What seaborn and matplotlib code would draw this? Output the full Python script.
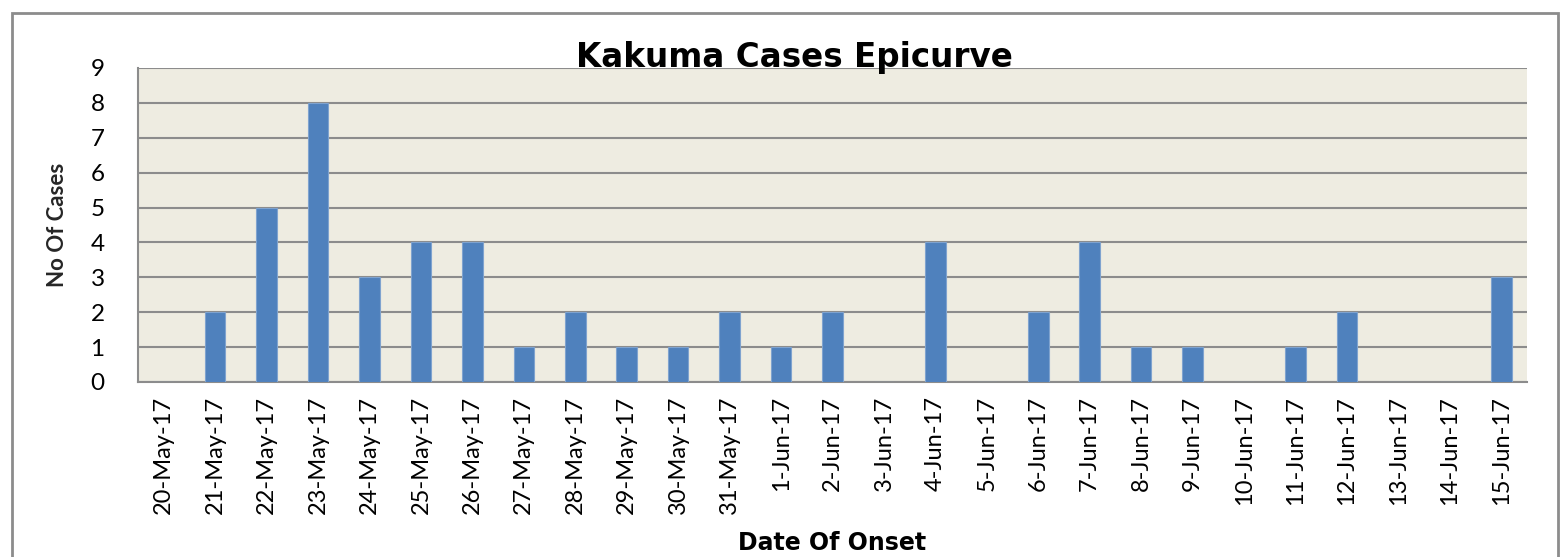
import matplotlib
matplotlib.use("Agg")
import matplotlib.pyplot as plt
import seaborn as sns
import pandas as pd
from matplotlib.patches import Rectangle

dates = ["20-May-17", "21-May-17", "22-May-17", "23-May-17", "24-May-17", "25-May-17",
         "26-May-17", "27-May-17", "28-May-17", "29-May-17", "30-May-17", "31-May-17",
         "1-Jun-17", "2-Jun-17", "3-Jun-17", "4-Jun-17", "5-Jun-17", "6-Jun-17",
         "7-Jun-17", "8-Jun-17", "9-Jun-17", "10-Jun-17", "11-Jun-17", "12-Jun-17",
         "13-Jun-17", "14-Jun-17", "15-Jun-17"]
cases = [0, 2, 5, 8, 3, 4, 4, 1, 2, 1, 1, 2, 1, 2, 0, 4, 0, 2, 4, 1, 1, 0, 1, 2, 0, 0, 3]
y_ticks = list(range(0, 10))

title = "Kakuma Cases Epicurve"
xlabel = "Date Of Onset"
ylabel = "No Of Cases"

sns.set_theme(style="white")
plt.rcParams['font.family'] = ['Lato', 'DejaVu Sans']

W, H = 1562, 557
fig = plt.figure(figsize=(W / 100, H / 100), dpi=100)
fig.patch.set_facecolor("white")

# outer chart frame
fig.add_artist(Rectangle((12 / W, -0.05), (1558 - 12) / W, 1.05 - 13 / H,
                         transform=fig.transFigure, fill=False,
                         edgecolor="#8c8c8c", linewidth=2))

left, right, top, bottom = 138, 1527, 68, 382
ax = fig.add_axes([left / W, 1 - bottom / H, (right - left) / W, (bottom - top) / H])
ax.set_facecolor("#EEECE1")

df = pd.DataFrame({"date": dates, "cases": cases})
sns.barplot(data=df, x="date", y="cases", color="#4F81BD", saturation=1,
            width=0.4, ax=ax, edgecolor="#7fa3cf", linewidth=0.8, zorder=3)

ax.set_ylim(0, 9)
ax.set_yticks(y_ticks)
ax.set_xlim(-0.5, len(dates) - 0.5)
ax.yaxis.grid(True, color="#8c8c8c", linewidth=1.5, zorder=0)
ax.set_axisbelow(True)
for s in ["top", "right"]:
    ax.spines[s].set_visible(False)
for s in ["left", "bottom"]:
    ax.spines[s].set_color("#8c8c8c")
    ax.spines[s].set_linewidth(1.5)

ax.tick_params(axis="y", length=0, pad=24, labelsize=17.5, labelcolor="black")
ax.tick_params(axis="x", length=0, pad=10, labelsize=17, labelcolor="black")
plt.setp(ax.get_xticklabels(), rotation=90)

ax.set_xlabel("")
ax.set_ylabel(ylabel, fontsize=16, fontweight="bold", labelpad=16)
fig.text(832 / W, 1 - 550 / H, xlabel, ha="center", va="baseline",
         fontsize=17, fontweight="bold", color="black", family="DejaVu Sans")
fig.text(794 / W, 1 - 67 / H, title, ha="center", va="baseline",
         fontsize=23.5, fontweight="bold", color="black", family="DejaVu Sans")

fig.savefig("out.png", dpi=100)
